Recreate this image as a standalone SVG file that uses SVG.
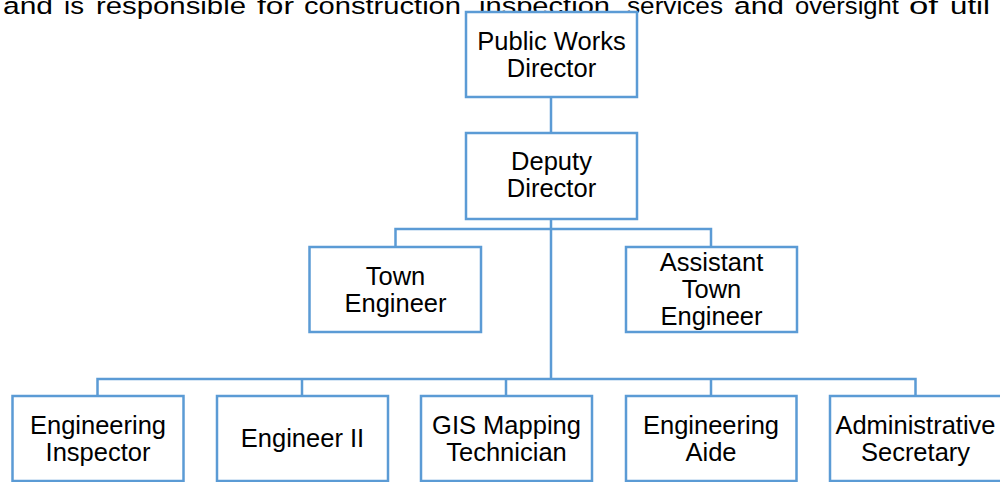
<svg xmlns="http://www.w3.org/2000/svg" width="1000" height="482" viewBox="0 0 1000 482">
<style>
.box{fill:#ffffff;stroke:#5B9BD5;stroke-width:2.5}
.conn{fill:none;stroke:#5B9BD5;stroke-width:2.5}
.lbl{font-family:"Liberation Sans",Arial,sans-serif;font-size:25.5px;fill:#000000;text-anchor:middle}
.para{font-family:"Liberation Sans",Arial,sans-serif;font-size:24.5px;fill:#000000}
</style>
<rect width="1000" height="482" fill="#ffffff"/>
<text class="para" y="13.5"><tspan x="3" textLength="50" lengthAdjust="spacingAndGlyphs">and</tspan><tspan x="64" textLength="20" lengthAdjust="spacingAndGlyphs">is</tspan><tspan x="96" textLength="150" lengthAdjust="spacingAndGlyphs">responsible</tspan><tspan x="257" textLength="37" lengthAdjust="spacingAndGlyphs">for</tspan><tspan x="304" textLength="157" lengthAdjust="spacingAndGlyphs">construction</tspan><tspan x="479" textLength="131" lengthAdjust="spacingAndGlyphs">inspection</tspan><tspan x="627" textLength="96" lengthAdjust="spacingAndGlyphs">services</tspan><tspan x="734" textLength="50" lengthAdjust="spacingAndGlyphs">and</tspan><tspan x="795" textLength="104" lengthAdjust="spacingAndGlyphs">oversight</tspan><tspan x="909" textLength="29" lengthAdjust="spacingAndGlyphs">of</tspan><tspan x="950" textLength="40" lengthAdjust="spacingAndGlyphs">util</tspan></text>
<g id="connectors">
<path class="conn" d="M551 97V133"/>
<path class="conn" d="M551 219V379"/>
<path class="conn" d="M395.5 247V229H711V247"/>
<path class="conn" d="M97.5 396V379H915.5V396"/>
<path class="conn" d="M302 379V396M506 379V396M711 379V396"/>
</g>
<g id="public-works-director"><rect class="box" x="466" y="12" width="171" height="85"/><text class="lbl" x="551.5" y="49.5">Public Works</text><text class="lbl" x="551.5" y="76.5">Director</text></g>
<g id="deputy-director"><rect class="box" x="466" y="133" width="171" height="86"/><text class="lbl" x="551.5" y="170">Deputy</text><text class="lbl" x="551.5" y="197">Director</text></g>
<g id="town-engineer"><rect class="box" x="309.5" y="247" width="171.5" height="85"/><text class="lbl" x="395.5" y="285">Town</text><text class="lbl" x="395.5" y="312">Engineer</text></g>
<g id="assistant-town-engineer"><rect class="box" x="626" y="247" width="171" height="85"/><text class="lbl" x="711.5" y="271">Assistant</text><text class="lbl" x="711.5" y="298">Town</text><text class="lbl" x="711.5" y="325">Engineer</text></g>
<g id="engineering-inspector"><rect class="box" x="12.5" y="396" width="171" height="85"/><text class="lbl" x="98" y="433.5">Engineering</text><text class="lbl" x="98" y="460.5">Inspector</text></g>
<g id="engineer-ii"><rect class="box" x="217" y="396" width="171" height="85"/><text class="lbl" x="302.5" y="447">Engineer II</text></g>
<g id="gis-mapping-technician"><rect class="box" x="421" y="396" width="171" height="85"/><text class="lbl" x="506.5" y="433.5">GIS Mapping</text><text class="lbl" x="506.5" y="460.5">Technician</text></g>
<g id="engineering-aide"><rect class="box" x="626" y="396" width="170.5" height="85"/><text class="lbl" x="711" y="433.5">Engineering</text><text class="lbl" x="711" y="460.5">Aide</text></g>
<g id="administrative-secretary"><rect class="box" x="830" y="396" width="172" height="85"/><text class="lbl" x="915.5" y="433.5">Administrative</text><text class="lbl" x="915.5" y="460.5">Secretary</text></g>
</svg>
